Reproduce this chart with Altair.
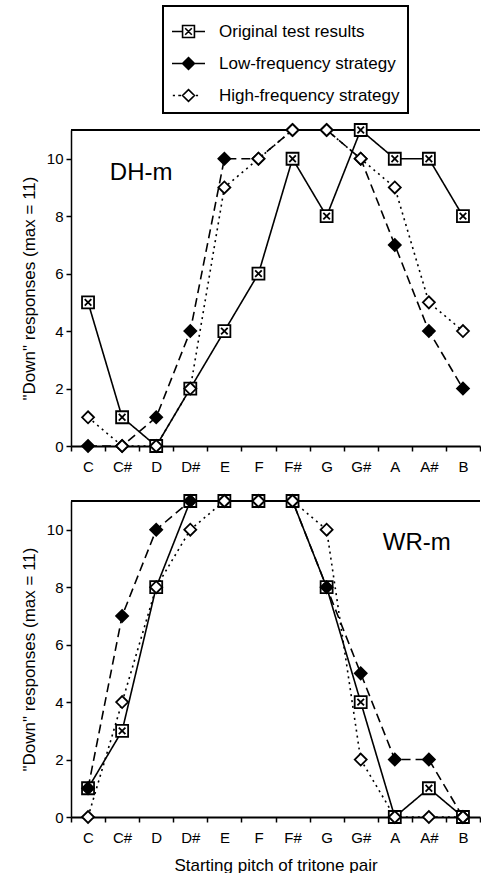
import altair as alt
import pandas as pd

pitches = ["C", "C#", "D", "D#", "E", "F", "F#", "G", "G#", "A", "A#", "B"]
series_names = ["Original test results", "Low-frequency strategy", "High-frequency strategy"]

dh_original = [5, 1, 0, 2, 4, 6, 10, 8, 11, 10, 10, 8]
dh_low = [0, 0, 1, 4, 10, 10, 11, 11, 10, 7, 4, 2]
dh_high = [1, 0, 0, 2, 9, 10, 11, 11, 10, 9, 5, 4]

wr_original = [1, 3, 8, 11, 11, 11, 11, 8, 4, 0, 1, 0]
wr_low = [1, 7, 10, 11, 11, 11, 11, 8, 5, 2, 2, 0]
wr_high = [0, 4, 8, 10, 11, 11, 11, 10, 2, 0, 0, 0]

y_ticks = [0, 2, 4, 6, 8, 10]
y_max = 11
y_title = '"Down" responses (max = 11)'
x_title = "Starting pitch of tritone pair"

FONT = "Liberation Sans"

SQUARE_X = "M-1,-1H1V1H-1ZM-0.55,-0.55L0.55,0.55M0.55,-0.55L-0.55,0.55"
LEG_ORIG = ("M-1,0H-0.36M0.36,0H1M-0.36,-0.36H0.36V0.36H-0.36Z"
            "M-0.2,-0.2L0.2,0.2M0.2,-0.2L-0.2,0.2")
LEG_LOW = "M-1,0H1M0,-0.36L0.36,0L0,0.36L-0.36,0Z"
LEG_HIGH = "M-0.95,0H-0.82M-0.62,0H-0.45M0.45,0H0.58M0,-0.36L0.36,0L0,0.36L-0.36,0Z"


def long_df(orig, low, high):
    rows = []
    for name, vals in zip(series_names, [orig, low, high]):
        for i, (p, v) in enumerate(zip(pitches, vals)):
            rows.append({"pitch": p, "value": v, "series": name, "idx": i})
    return pd.DataFrame(rows)


def panel(df, label, label_pitch, label_value, label_dx, with_legend, show_x_title):
    x_axis = alt.Axis(
        labelAngle=0, tickBand="extent", title=x_title if show_x_title else None,
        tickSize=5, tickWidth=1.5, domainWidth=2, labelFontSize=15, labelPadding=8,
        titleFontSize=17, titleFontWeight="normal", titlePadding=12,
        labelFont=FONT, titleFont=FONT, domainColor="black", tickColor="black",
        labelColor="black", titleColor="black",
    )
    x = alt.X("pitch:N", sort=pitches, bandPosition=0.5,
              scale=alt.Scale(type="band", domain=pitches, paddingInner=0, paddingOuter=0),
              axis=x_axis)
    y = alt.Y("value:Q", scale=alt.Scale(domain=[0, y_max], nice=False, zero=True),
              axis=alt.Axis(values=y_ticks, title=y_title, grid=False, tickSize=5,
                            tickWidth=1.5, domainWidth=1.5, labelFontSize=15,
                            labelPadding=3, titleFontSize=17, titleFontWeight="normal",
                            titlePadding=8, labelFont=FONT, titleFont=FONT,
                            domainColor="black", tickColor="black", labelColor="black",
                            titleColor="black"))

    base = alt.Chart(df)
    lines = base.mark_line(color="black", strokeWidth=1.6).encode(
        x=x, y=y,
        strokeDash=alt.StrokeDash("series:N", scale=alt.Scale(
            domain=series_names, range=[[1, 0], [9, 5], [2, 4]]), legend=None),
        order=alt.Order("idx:Q"),
    )
    points = base.mark_point(filled=True, stroke="black", strokeWidth=1.8,
                             opacity=1, size=144).encode(
        x=x, y=y,
        shape=alt.Shape("series:N", scale=alt.Scale(
            domain=series_names, range=[SQUARE_X, "diamond", "diamond"]), legend=None),
        fill=alt.Fill("series:N", scale=alt.Scale(
            domain=series_names, range=["white", "black", "white"]), legend=None),
    )
    top_rule = alt.Chart(df).mark_rule(color="black", strokeWidth=2).encode(
        y=alt.datum(y_max))
    text_df = pd.DataFrame({"label": [label], "pitch": [label_pitch], "value": [label_value]})
    text = alt.Chart(text_df).mark_text(font=FONT, fontSize=24, align="center",
                                        baseline="middle", dx=label_dx,
                                        color="black").encode(
        x=x, y=y, text="label:N")

    layers = [top_rule, lines, points, text]
    if with_legend:
        leg = alt.Legend(
            orient="none", legendX=92, legendY=-124, title=None, symbolSize=1089,
            symbolStrokeWidth=1.6, symbolStrokeColor="black", symbolOpacity=1,
            labelFont=FONT, labelFontSize=17, labelColor="black", labelOffset=13,
            labelExpr="datum.label + '\u00a0\u00a0\u00a0'",
            strokeColor="black", padding=8, rowPadding=5, labelLimit=300,
        )
        dummy = base.mark_point(filled=True, opacity=0, size=1089).encode(
            x=x, y=y,
            shape=alt.Shape("series:N", scale=alt.Scale(
                domain=series_names, range=[LEG_ORIG, LEG_LOW, LEG_HIGH]), legend=leg),
            fill=alt.Fill("series:N", scale=alt.Scale(
                domain=series_names, range=["white", "black", "white"]), legend=leg),
            stroke=alt.Stroke("series:N", scale=alt.Scale(
                domain=series_names, range=["black", "black", "black"]), legend=leg),
        )
        layers.append(dummy)
    ch = alt.layer(*layers).properties(width=409, height=316)
    if with_legend:
        ch = ch.resolve_scale(shape="independent", fill="independent",
                              stroke="independent")
    return ch


top = panel(long_df(dh_original, dh_low, dh_high), "DH-m", "C#", 9.5, 19, True, False)
bottom = panel(long_df(wr_original, wr_low, wr_high), "WR-m", "A", 9.55, 22, False, True)

chart = alt.vconcat(top, bottom, spacing=17).properties(
    padding={"left": 20, "top": 5, "right": 0, "bottom": 0}
).configure_view(stroke=None).configure_legend(strokeWidth=2)

chart.save("out.html", embed_options={"renderer": "svg", "actions": False})
